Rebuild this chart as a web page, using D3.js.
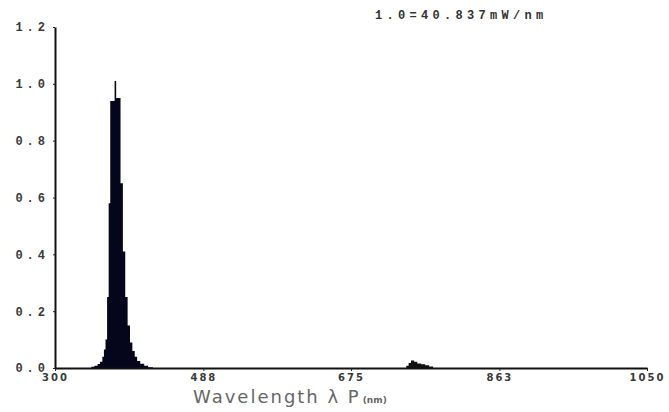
<!DOCTYPE html>
<html>
<head>
<meta charset="utf-8">
<script src="https://cdn.jsdelivr.net/npm/d3@7"></script>
<style>
  body { margin: 0; background: #fff; }
  .tick text { font-weight: bold; fill: #3a3a3a; }
</style>
</head>
<body>
<div id="graph"></div>
<script>
// spectrum data (wavelength in nm, relative intensity)
const peakNm  = [340, 346, 350, 354, 357, 360, 362, 364, 366, 368, 370, 375.5, 377.5, 383, 386, 389, 392, 395, 398, 401, 404, 408, 413, 418, 424];
const peakVal = [0, 0.004, 0.008, 0.014, 0.022, 0.04, 0.065, 0.1, 0.25, 0.58, 0.94, 1.01, 0.95, 0.65, 0.41, 0.25, 0.15, 0.09, 0.06, 0.04, 0.025, 0.015, 0.008, 0.003, 0];
const bumpNm  = [742, 745, 748, 751, 755, 759, 764, 769, 774, 779];
const bumpVal = [0, 0.008, 0.018, 0.026, 0.022, 0.016, 0.013, 0.01, 0.005, 0];
const xTicks = [300, 488, 675, 863, 1050];
const yTicks = [0, 0.2, 0.4, 0.6, 0.8, 1.0, 1.2];
const note = '1.0=40.837mW/nm';

const W = 669, H = 412;
const margin = {top: 27, right: 22, bottom: 44, left: 55};
const width = W - margin.left - margin.right;
const height = H - margin.top - margin.bottom;

var xScale = d3.scaleLinear().domain([300, 1050]).range([0, width]);
var yScale = d3.scaleLinear().domain([0, 1.2]).range([height, 0]);

var svg = d3.select('#graph').append('svg')
    .attr('width', W).attr('height', H)
    .append('g')
    .attr('transform', 'translate(' + margin.left + ',' + margin.top + ')');

var area = d3.area()
    .x(d => xScale(d[0]))
    .y0(yScale(0))
    .y1(d => yScale(d[1]))
    .curve(d3.curveStepAfter);

svg.append('path')
    .datum(d3.zip(peakNm, peakVal))
    .attr('d', area)
    .attr('fill', '#05051c');

svg.append('path')
    .datum(d3.zip(bumpNm, bumpVal))
    .attr('d', area)
    .attr('fill', '#111');

// axes
var xAxis = svg.append('g')
    .attr('transform', 'translate(0,' + height + ')')
    .call(d3.axisBottom(xScale).tickValues(xTicks).tickSize(3).tickSizeOuter(0).tickFormat(d3.format('d')));
xAxis.selectAll('text')
    .attr('y', 6).attr('dy', '0.71em')
    .style('font-size', '10px')
    .style('font-family', '"DejaVu Sans", sans-serif')
    .style('letter-spacing', '2px');

var yAxis = svg.append('g')
    .call(d3.axisLeft(yScale).tickValues(yTicks).tickSize(2).tickSizeOuter(0).tickFormat(d3.format('.1f')));
yAxis.selectAll('text')
    .attr('x', -6)
    .style('font-size', '12px')
    .style('font-family', '"Liberation Mono", monospace')
    .style('letter-spacing', '4px');

svg.selectAll('.domain').attr('stroke', '#111').attr('stroke-width', 2);
svg.selectAll('.tick line').attr('stroke', '#222');

// note at top
svg.append('text')
    .attr('x', 375 - margin.left).attr('y', 19 - margin.top)
    .attr('font-family', '"Liberation Mono", monospace')
    .attr('font-weight', 'bold')
    .attr('font-size', 12)
    .attr('letter-spacing', 4.3)
    .attr('fill', '#333')
    .text(note);

// x axis title
var title = svg.append('text')
    .attr('x', 193 - margin.left).attr('y', 403 - margin.top)
    .attr('font-family', '"DejaVu Sans", sans-serif')
    .attr('fill', '#666');
title.append('tspan').attr('font-size', 18).attr('letter-spacing', 2).text('Wavelength λ P');
title.append('tspan').attr('font-size', 9).attr('dx', 2).attr('font-weight', 'bold').text('(nm)');
</script>
</body>
</html>
